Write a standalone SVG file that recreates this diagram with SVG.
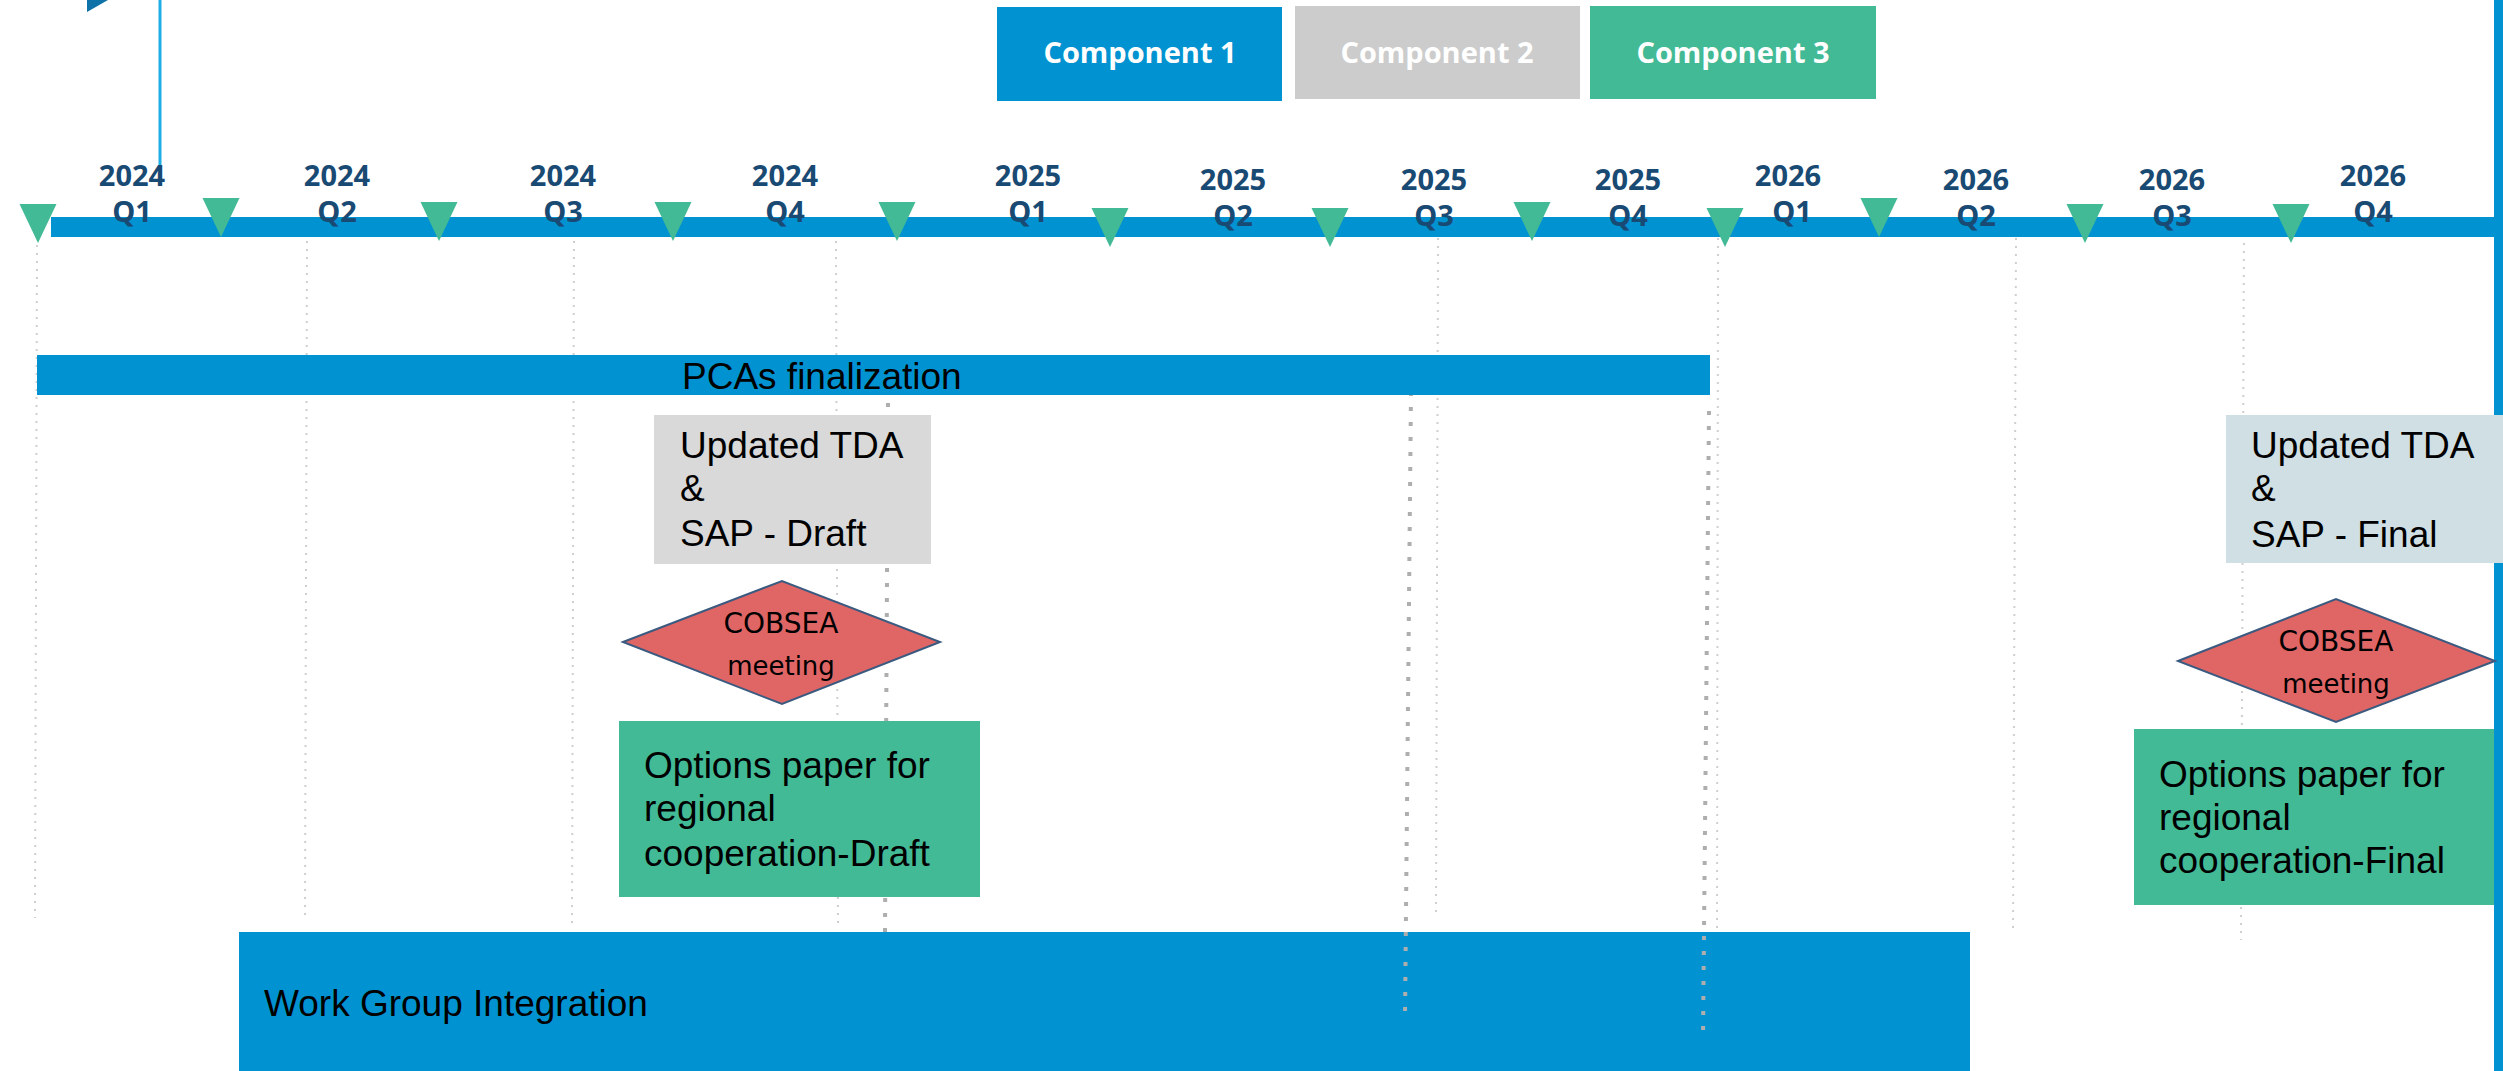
<svg xmlns="http://www.w3.org/2000/svg" xmlns:xlink="http://www.w3.org/1999/xlink" width="2503" height="1071" viewBox="0 0 2503 1071">
<style>
.bg{fill:#ffffff}
.blue{fill:#0193D1}
.green{fill:#43BA96}
.grey{fill:#CCCCCC}
.tri{fill:#43BA96}
.yr{font-family:"Open Sans","DejaVu Sans",sans-serif;font-weight:700;font-size:29px;fill:#194A73;text-anchor:middle}
.comp{font-family:"Open Sans","DejaVu Sans",sans-serif;font-weight:700;font-size:29px;fill:#ffffff;text-anchor:middle}
.lbl{font-family:"Liberation Sans",Arial,sans-serif;font-size:37px;fill:#000000}
.dia{fill:#E06666;stroke:#3A5A80;stroke-width:2}
.diat{font-family:"DejaVu Sans","Liberation Sans",sans-serif;font-size:28px;fill:#000000;text-anchor:middle}
.diam{font-size:26px}
.grid{stroke:#CFCFCF;stroke-width:2;stroke-dasharray:2 6;fill:none}
.heavy{stroke:#AEAEAE;stroke-width:4;stroke-dasharray:4 11;fill:none}
</style>
<defs>
<polygon id="tri" points="-18.5,0 18.5,0 0,39"/>
</defs>
<rect class="bg" x="0" y="0" width="2503" height="1071"/>

<g id="decor">
<rect class="blue" x="2494" y="0" width="9" height="1071"/>
<line x1="160" y1="0" x2="160" y2="166" stroke="#1DAEE5" stroke-width="3"/>
<polygon points="87,0 108,0 87,12" fill="#0E72A8"/>
</g>

<g id="work-group">
<rect class="blue" x="239" y="932" width="1731" height="139"/>
<text class="lbl" x="264" y="1016">Work Group Integration</text>
</g>

<g id="connectors">
<line class="grid" x1="37" y1="245" x2="35" y2="918"/>
<line class="grid" x1="307" y1="241" x2="305" y2="916"/>
<line class="grid" x1="574" y1="241" x2="572" y2="923"/>
<line class="grid" x1="836" y1="241" x2="838" y2="924"/>
<line class="grid" x1="1438" y1="238" x2="1436" y2="918"/>
<line class="grid" x1="1718" y1="238" x2="1717" y2="930"/>
<line class="grid" x1="2016" y1="238" x2="2013" y2="933"/>
<line class="grid" x1="2244" y1="227" x2="2241" y2="940"/>
<line class="heavy" x1="888" y1="403" x2="885" y2="932"/>
<line class="heavy" x1="1411" y1="392" x2="1405" y2="1016"/>
<line class="heavy" x1="1709" y1="411" x2="1703" y2="1037"/>
</g>

<g id="timeline">
<rect class="blue" x="51" y="217" width="2452" height="20"/>
<use href="#tri" xlink:href="#tri" class="tri" x="38" y="204"/>
<use href="#tri" xlink:href="#tri" class="tri" x="221" y="198"/>
<use href="#tri" xlink:href="#tri" class="tri" x="439" y="202"/>
<use href="#tri" xlink:href="#tri" class="tri" x="673" y="202"/>
<use href="#tri" xlink:href="#tri" class="tri" x="897" y="202"/>
<use href="#tri" xlink:href="#tri" class="tri" x="1110" y="208"/>
<use href="#tri" xlink:href="#tri" class="tri" x="1330" y="208"/>
<use href="#tri" xlink:href="#tri" class="tri" x="1532" y="202"/>
<use href="#tri" xlink:href="#tri" class="tri" x="1725" y="208"/>
<use href="#tri" xlink:href="#tri" class="tri" x="1879" y="198"/>
<use href="#tri" xlink:href="#tri" class="tri" x="2085" y="204"/>
<use href="#tri" xlink:href="#tri" class="tri" x="2291" y="204"/>
<text class="yr" x="132" y="186">2024</text><text class="yr" x="132" y="222">Q1</text>
<text class="yr" x="337" y="186">2024</text><text class="yr" x="337" y="222">Q2</text>
<text class="yr" x="563" y="186">2024</text><text class="yr" x="563" y="222">Q3</text>
<text class="yr" x="785" y="186">2024</text><text class="yr" x="785" y="222">Q4</text>
<text class="yr" x="1028" y="186">2025</text><text class="yr" x="1028" y="222">Q1</text>
<text class="yr" x="1233" y="190">2025</text><text class="yr" x="1233" y="226">Q2</text>
<text class="yr" x="1434" y="190">2025</text><text class="yr" x="1434" y="226">Q3</text>
<text class="yr" x="1628" y="190">2025</text><text class="yr" x="1628" y="226">Q4</text>
<text class="yr" x="1788" y="186">2026</text><text class="yr" x="1792" y="222">Q1</text>
<text class="yr" x="1976" y="190">2026</text><text class="yr" x="1976" y="226">Q2</text>
<text class="yr" x="2172" y="190">2026</text><text class="yr" x="2172" y="226">Q3</text>
<text class="yr" x="2373" y="186">2026</text><text class="yr" x="2373" y="222">Q4</text>
</g>

<g id="component-1">
<rect class="blue" x="997" y="7" width="285" height="94"/>
<text class="comp" x="1140" y="63">Component 1</text>
</g>
<g id="component-2">
<rect class="grey" x="1295" y="6" width="285" height="93"/>
<text class="comp" x="1437" y="63">Component 2</text>
</g>
<g id="component-3">
<rect class="green" x="1590" y="6" width="286" height="93"/>
<text class="comp" x="1733" y="63">Component 3</text>
</g>

<g id="pcas-finalization">
<rect class="blue" x="37" y="355" width="1673" height="40"/>
<text class="lbl" x="682" y="389">PCAs finalization</text>
</g>

<g id="tda-sap-draft">
<rect x="654" y="415" width="277" height="149" fill="#D9D9D9"/>
<text class="lbl" x="680" y="458">Updated TDA</text>
<text class="lbl" x="680" y="501">&amp;</text>
<text class="lbl" x="680" y="546">SAP - Draft</text>
</g>

<g id="cobsea-meeting-1">
<polygon class="dia" points="623,642 782,581 940,642 782,704"/>
<text class="diat" x="781" y="633">COBSEA</text>
<text class="diat diam" x="781" y="675">meeting</text>
</g>

<g id="options-paper-draft">
<rect class="green" x="619" y="721" width="361" height="176"/>
<text class="lbl" x="644" y="778">Options paper for</text>
<text class="lbl" x="644" y="821">regional</text>
<text class="lbl" x="644" y="866">cooperation-Draft</text>
</g>

<g id="tda-sap-final">
<rect x="2226" y="415" width="277" height="148" fill="#D0DFE3"/>
<text class="lbl" x="2251" y="458">Updated TDA</text>
<text class="lbl" x="2251" y="501">&amp;</text>
<text class="lbl" x="2251" y="547">SAP - Final</text>
</g>

<g id="cobsea-meeting-2">
<polygon class="dia" points="2178,661 2336,599 2495,661 2336,722"/>
<text class="diat" x="2336" y="651">COBSEA</text>
<text class="diat diam" x="2336" y="693">meeting</text>
</g>

<g id="options-paper-final">
<rect class="green" x="2134" y="729" width="360" height="176"/>
<text class="lbl" x="2159" y="787">Options paper for</text>
<text class="lbl" x="2159" y="830">regional</text>
<text class="lbl" x="2159" y="873">cooperation-Final</text>
</g>
</svg>
